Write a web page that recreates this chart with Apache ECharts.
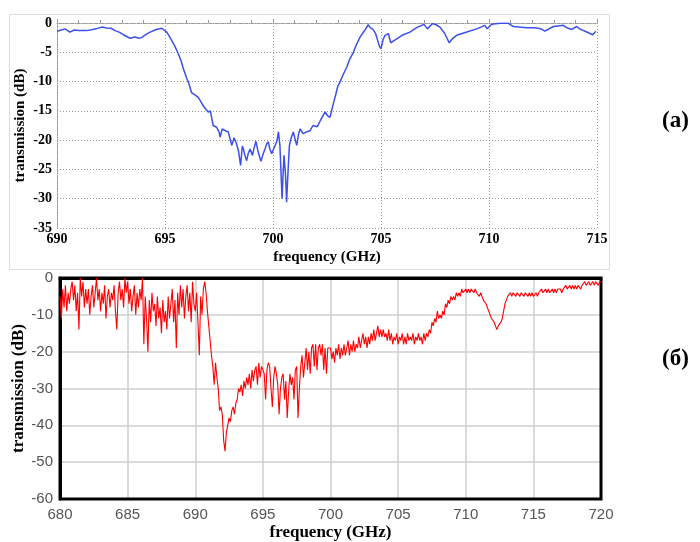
<!DOCTYPE html>
<html>
<head>
<meta charset="utf-8">
<script src="https://cdn.jsdelivr.net/npm/echarts@6/dist/echarts.min.js"></script>
<style>
  html, body { margin: 0; padding: 0; background: #fff; }
  #chart { width: 700px; height: 542px; }
</style>
</head>
<body>
<div id="chart"></div>
<script>
// (a) measured transmission, blue trace
const freqA = [
  690.0, 690.2, 690.37, 690.6, 690.8, 691.0, 691.37, 691.6, 691.8, 692.07,
  692.3, 692.5, 692.69, 692.9, 693.07, 693.38, 693.6, 693.8, 693.92, 694.1,
  694.31, 694.6, 694.85, 695.08, 695.25, 695.45, 695.62, 695.75, 695.85, 696.0,
  696.1, 696.23, 696.4, 696.54, 696.7, 696.8, 697.0, 697.1, 697.23, 697.39,
  697.5, 697.55, 697.65, 697.8, 697.93, 698.05, 698.09, 698.2, 698.3, 698.4,
  698.5, 698.58, 698.63, 698.7, 698.78, 698.85, 698.94, 699.05, 699.12, 699.21,
  699.3, 699.44, 699.55, 699.63, 699.7, 699.78, 699.86, 699.94, 700.02, 700.09,
  700.18, 700.25, 700.32, 700.42, 700.47, 700.51, 700.58, 700.63, 700.7, 700.76,
  700.85, 700.94, 701.02, 701.1, 701.18, 701.25, 701.4, 701.55, 701.71, 701.85,
  701.94, 702.05, 702.2, 702.41, 702.52, 702.64, 702.79, 702.9, 703.0, 703.1,
  703.25, 703.41, 703.55, 703.72, 703.85, 704.03, 704.2, 704.41, 704.5, 704.63,
  704.75, 704.92, 705.0, 705.1, 705.19, 705.34, 705.45, 705.6, 705.73, 706.03,
  706.34, 706.65, 706.99, 707.15, 707.39, 707.55, 707.73, 707.95, 708.16, 708.3,
  708.5, 708.97, 709.43, 709.81, 709.92, 710.12, 710.51, 710.9, 711.13, 711.4,
  711.75, 712.1, 712.4, 712.59, 712.98, 713.2, 713.44, 713.6, 713.83, 714.06,
  714.2, 714.5, 714.8, 714.95
]
const dbA = [
  -1.4, -1.2, -1.0, -1.55, -1.2, -1.3, -1.3, -1.15, -1.0, -0.7,
  -0.85, -0.9, -1.3, -1.6, -2.0, -2.6, -2.4, -2.6, -2.5, -2.0,
  -1.55, -1.1, -0.9, -1.55, -2.6, -3.9, -5.3, -6.5, -7.8, -9.4,
  -10.3, -11.9, -12.3, -12.7, -13.7, -14.3, -15.2, -15.0, -17.5, -17.8,
  -18.6, -19.5, -18.1, -18.4, -18.6, -20.3, -20.9, -19.6, -20.5, -21.8,
  -24.3, -21.0, -21.5, -22.6, -23.5, -22.3, -21.5, -22.6, -21.4, -20.2,
  -21.8, -23.6, -22.3, -21.5, -20.7, -20.3, -21.6, -22.3, -21.6, -21.5,
  -20.2, -18.6, -20.9, -30.0, -25.5, -22.6, -26.0, -30.6, -25.0, -20.9,
  -19.5, -18.6, -19.8, -20.9, -19.0, -18.1, -18.9, -18.6, -18.4, -17.5,
  -17.2, -17.7, -16.6, -15.2, -15.8, -16.1, -13.8, -12.3, -10.8, -10.1,
  -8.8, -7.6, -6.2, -5.0, -3.8, -2.4, -1.5, -0.3, -0.8, -1.1,
  -1.8, -3.9, -4.4, -2.8, -2.1, -1.8, -3.4, -3.0, -2.7, -2.0,
  -1.55, -0.8, -0.23, -1.0, -0.1, -0.3, -0.7, -1.8, -3.4, -2.7,
  -2.1, -1.55, -1.0, -0.4, -1.0, -0.2, -0.05, -0.05, -0.6, -0.7,
  -0.8, -0.8, -1.0, -1.4, -0.6, -0.5, -0.4, -0.8, -1.1, -0.6,
  -1.0, -1.5, -2.0, -1.4
]

// (б) transmission, red trace, sampled every 0.1 GHz from 680 GHz
const freqStartB = 680
const freqStepB = 0.1
const dbB = [
  -5, -11, -3, -8, -2, -9, -4, -7, -3, -1,
  -6, -2, -9, -4, -14, 0, -5, -1, -8, -3,
  -7, -3, -10, -5, -2, -8, -4, 0, -6, -3,
  -9, -4, -7, -2, -11, -5, -3, -8, -4, -6,
  -2, -9, -14, -4, -1, -6, -3, -8, 0, -4,
  -1, -7, -3, -9, -5, -2, -10, -4, -8, -3,
  -6, 0, -18, -5, -11, -20, -6, -12, -4, -9,
  -7, -13, -5, -11, -8, -15, -6, -12, -9, -14,
  -5, -11, -7, -3, -12, -6, -19, -4, -10, -2,
  -8, -3, -11, -5, -2, -9, -4, -12, -1, -7,
  -9, -4, -12, -21, -5, -10, -3, -1, -4, -9,
  -13, -17, -21, -24, -29, -23, -27, -30, -36, -35,
  -37, -44, -47, -42, -40, -38, -39, -36, -35, -37,
  -34, -33, -30, -31, -29, -32, -28, -30, -27, -29,
  -26, -30, -25, -28, -25, -24, -29, -23, -27, -24,
  -24, -26, -33, -25, -23, -24, -30, -35, -27, -24,
  -26, -29, -37, -30, -27, -26, -33, -28, -38, -31,
  -26, -29, -27, -33, -25, -24, -38, -30, -24, -21,
  -27, -23, -19, -25, -20, -26, -19, -18, -24, -18,
  -25, -19, -18, -21, -18, -25, -19, -26, -19, -19,
  -19, -22, -20, -23, -19, -21, -18, -22, -19, -21,
  -18, -21, -19, -17, -21, -18, -20, -17, -20, -18,
  -19, -16, -19, -17, -15, -18, -16, -19, -16, -18,
  -15, -17, -14, -17, -15, -13, -16, -14, -16, -14,
  -16, -15, -17, -14, -17, -15, -18, -16, -17, -15,
  -18, -16, -17, -15, -18, -16, -18, -15, -17, -16,
  -17, -15, -18, -16, -17, -15, -17, -16, -18, -15,
  -17, -15, -16, -14, -15, -12, -13, -11, -12, -9,
  -11, -10, -11, -9, -10, -7, -8, -6, -7, -5,
  -6, -5, -6, -4, -5, -4, -5, -3, -4, -4,
  -3, -4, -3, -4, -3, -3, -4, -3, -4, -4,
  -5, -4, -5, -6, -6, -7, -8, -9, -9, -11,
  -11, -12, -12, -14, -13, -13, -12, -11, -9, -7,
  -6, -5, -5, -4, -5, -4, -4, -5, -4, -4,
  -5, -4, -4, -5, -4, -4, -5, -4, -5, -4,
  -5, -5, -4, -5, -4, -4, -3, -4, -4, -3,
  -4, -3, -4, -4, -3, -4, -3, -4, -3, -3,
  -3, -4, -3, -3, -2, -3, -3, -2, -3, -2,
  -3, -2, -3, -2, -2, -3, -2, -2, -1, -2,
  -2, -1, -2, -2, -1, -2, -1, -1, -2, -1,
  -1
]

const seriesA = freqA.map((f, i) => [f, dbA[i]])
const seriesB = dbB.map((v, i) => [+(freqStartB + i * freqStepB).toFixed(1), v])

const serif = '"Liberation Serif", "Times New Roman", serif'
const sans = '"Liberation Sans", Arial, sans-serif'

const chart = echarts.init(document.getElementById('chart'))
chart.setOption({
  animation: false,
  backgroundColor: '#fff',
  graphic: [
    { type: 'rect', shape: { x: 9.5, y: 14.5, width: 600, height: 255 }, style: { fill: 'none', stroke: '#dcdcdc', lineWidth: 1 }, z: -1 },
    { type: 'text', left: 662, top: 110, style: { text: '(a)', font: 'bold 23px ' + serif, fill: '#000' } },
    { type: 'text', left: 662, top: 348, style: { text: '(б)', font: 'bold 23px ' + serif, fill: '#000' } }
  ],
  grid: [
    { left: 57, top: 23, width: 540, height: 205 },
    { left: 60, top: 278, width: 541, height: 221, show: true, borderColor: '#000', borderWidth: 3, z: 3 }
  ],
  xAxis: [
    {
      gridIndex: 0, type: 'value', min: 690, max: 715, interval: 5,
      name: 'frequency (GHz)', nameLocation: 'middle', nameGap: 22,
      nameTextStyle: { fontFamily: serif, fontWeight: 'bold', fontSize: 15, color: '#000' },
      axisLine: { lineStyle: { color: '#999', type: 'dotted' } },
      axisTick: { inside: true, length: 4, lineStyle: { color: '#999' } },
      minorTick: { show: true, splitNumber: 5, length: 3, lineStyle: { color: '#999' } },
      axisLabel: { fontFamily: serif, fontWeight: 'bold', fontSize: 14, color: '#000', margin: 4 },
      splitLine: { lineStyle: { color: '#999', type: [1, 2] } }
    },
    {
      gridIndex: 1, type: 'value', min: 680, max: 720, interval: 5,
      name: 'frequency (GHz)', nameLocation: 'middle', nameGap: 25,
      nameTextStyle: { fontFamily: serif, fontWeight: 'bold', fontSize: 17, color: '#000' },
      axisLine: { lineStyle: { color: '#000', width: 3 } },
      axisTick: { show: false },
      axisLabel: { fontFamily: sans, fontSize: 15, color: '#555', margin: 8 },
      splitLine: { showMinLine: false, showMaxLine: false, lineStyle: { color: '#cfcfcf', width: 1.5 } }
    }
  ],
  yAxis: [
    {
      gridIndex: 0, type: 'value', min: -35, max: 0, interval: 5,
      name: 'transmission (dB)', nameLocation: 'middle', nameGap: 29, nameMoveOverlap: false,
      nameTextStyle: { fontFamily: serif, fontWeight: 'bold', fontSize: 15, color: '#000' },
      axisLine: { show: true, lineStyle: { color: '#999', type: 'dotted' } },
      axisTick: { show: false },
      axisLabel: { fontFamily: serif, fontWeight: 'bold', fontSize: 14, color: '#000', margin: 5 },
      splitLine: { lineStyle: { color: '#999', type: [1, 2] } }
    },
    {
      gridIndex: 1, type: 'value', min: -60, max: 0, interval: 10,
      name: 'transmission (dB)', nameLocation: 'middle', nameGap: 33, nameMoveOverlap: false,
      nameTextStyle: { fontFamily: serif, fontWeight: 'bold', fontSize: 17, color: '#000' },
      axisLine: { show: true, lineStyle: { color: '#000', width: 3 } },
      axisTick: { show: false },
      axisLabel: { fontFamily: sans, fontSize: 15, color: '#555', margin: 7 },
      splitLine: { showMinLine: false, showMaxLine: false, lineStyle: { color: '#cfcfcf', width: 1.5 } }
    }
  ],
  series: [
    {
      type: 'line', xAxisIndex: 0, yAxisIndex: 0, data: seriesA,
      showSymbol: false, smooth: false,
      lineStyle: { color: '#3c50ec', width: 1.5 }
    },
    {
      type: 'line', xAxisIndex: 1, yAxisIndex: 1, data: seriesB,
      showSymbol: false, smooth: false,
      lineStyle: { color: '#ff0000', width: 1.1 }
    }
  ]
})
</script>
</body>
</html>
